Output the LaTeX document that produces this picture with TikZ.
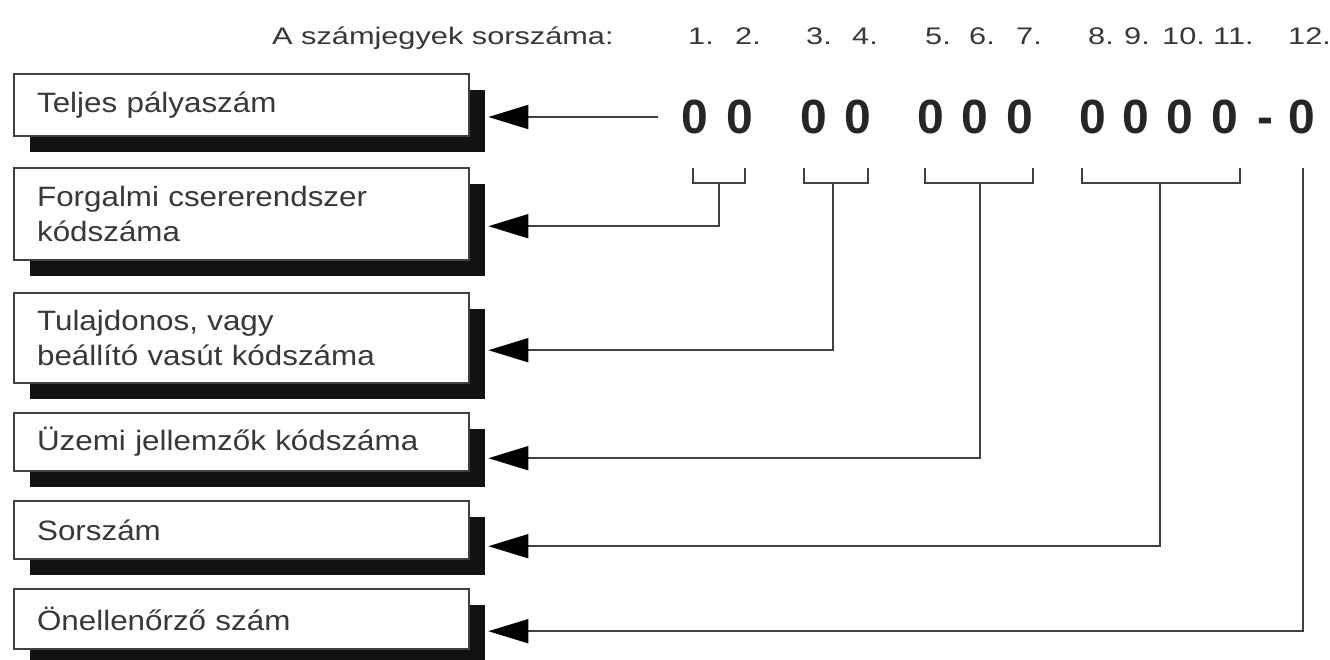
\documentclass[tikz,border=0pt]{standalone}
\usepackage{fontspec}
\setmainfont{Liberation Sans}
\newfontfamily\boxfont[FakeStretch=1.12]{Liberation Sans}
\newfontfamily\headfont[FakeStretch=1.28]{Liberation Sans}
\usetikzlibrary{arrows.meta}
\definecolor{txtc}{gray}{0.22}
\definecolor{linec}{gray}{0.25}
\definecolor{shadc}{gray}{0.07}
\begin{document}
\begin{tikzpicture}[x=1pt,y=-1pt,
  shadowbox/.style={draw=none, fill=shadc, minimum width=455pt, anchor=north west, inner sep=0pt},
  labelbox/.style={draw=linec, line width=2.2pt, fill=white, anchor=north west,
    text width=409pt, inner xsep=23pt, inner ysep=0pt, align=left, text=txtc,
    font=\boxfont\fontsize{28}{35}\selectfont},
  digit/.style={anchor=base, inner sep=0pt, text=black!85, font=\bfseries\fontsize{48}{48}\selectfont},
  headnum/.style={anchor=base west, inner sep=0pt, text=txtc, font=\headfont\fontsize{24}{24}\selectfont},
  brk/.style={draw=linec, line width=2pt},
  conn/.style={draw=linec, line width=2pt, -{Triangle[length=40pt,width=24pt,fill=black,color=black]}}
]
\useasboundingbox (0,0) rectangle (1330,659);
\fill[white] (0,0) rectangle (1330,659);

% header
\node[headnum] (head) at (272,44) {A számjegyek sorszáma:};
\node[headnum] (h1) at (688,44) {1.};
\node[headnum] (h2) at (735,44) {2.};
\node[headnum] (h3) at (806,44) {3.};
\node[headnum] (h4) at (852,44) {4.};
\node[headnum] (h5) at (925,44) {5.};
\node[headnum] (h6) at (969,44) {6.};
\node[headnum] (h7) at (1016,44) {7.};
\node[headnum] (h8) at (1088,44) {8.};
\node[headnum] (h9) at (1124,44) {9.};
\node[headnum] (h10) at (1162,44) {10.};
\node[headnum] (h11) at (1213,44) {11.};
\node[headnum] (h12) at (1288,44) {12.};

% digits
\node[digit] (d1) at (695,133) {0};
\node[digit] (d2) at (740,133) {0};
\node[digit] (d3) at (814,133) {0};
\node[digit] (d4) at (858,133) {0};
\node[digit] (d5) at (931,133) {0};
\node[digit] (d6) at (975,133) {0};
\node[digit] (d7) at (1020,133) {0};
\node[digit] (d8) at (1093,133) {0};
\node[digit] (d9) at (1136,133) {0};
\node[digit] (d10) at (1180,133) {0};
\node[digit] (d11) at (1225,133) {0};
\node[digit] (dash) at (1265,133) {-};
\node[digit] (d12) at (1302,133) {0};

% brackets
\draw[brk] (693,168) -- (693,183) -- (745,183) -- (745,168);
\draw[brk] (804,168) -- (804,183) -- (868,183) -- (868,168);
\draw[brk] (925,168) -- (925,183) -- (1033,183) -- (1033,168);
\draw[brk] (1082,168) -- (1082,183) -- (1240,183) -- (1240,168);
\coordinate (s1) at (658,117);
\coordinate (s2) at (719,183);
\coordinate (s3) at (833,183);
\coordinate (s4) at (980,183);
\coordinate (s5) at (1160,183);
\coordinate (s6) at (1303,168);

% boxes with shadows
\node[shadowbox, minimum height=62pt] (sh1) at (30,90) {};
\node[labelbox, minimum height=62pt] (b1) at (13,73) {Teljes pályaszám};
\node[shadowbox, minimum height=92pt] (sh2) at (30,184) {};
\node[labelbox, minimum height=92pt] (b2) at (13,167) {Forgalmi csererendszer\\kódszáma};
\node[shadowbox, minimum height=90pt] (sh3) at (30,309) {};
\node[labelbox, minimum height=90pt] (b3) at (13,292) {Tulajdonos, vagy\\beállító vasút kódszáma};
\node[shadowbox, minimum height=58pt] (sh4) at (30,429) {};
\node[labelbox, minimum height=58pt] (b4) at (13,412) {Üzemi jellemzők kódszáma};
\node[shadowbox, minimum height=58pt] (sh5) at (30,517) {};
\node[labelbox, minimum height=58pt] (b5) at (13,500) {Sorszám};
\node[shadowbox, minimum height=60pt] (sh6) at (30,605) {};
\node[labelbox, minimum height=60pt] (b6) at (13,588) {Önellenőrző szám};

% connectors
\coordinate (t1) at ([xshift=3pt]sh1.east);
\draw[conn] (s1) -- (s1 -| t1);
\draw[conn] (s2) |- ([xshift=3pt,yshift=4pt]sh2.east);
\draw[conn] (s3) |- ([xshift=3pt,yshift=4pt]sh3.east);
\draw[conn] (s4) |- ([xshift=3pt]sh4.east);
\draw[conn] (s5) |- ([xshift=3pt]sh5.east);
\draw[conn] (s6) |- ([xshift=3pt,yshift=4pt]sh6.east);
\end{tikzpicture}
\end{document}
